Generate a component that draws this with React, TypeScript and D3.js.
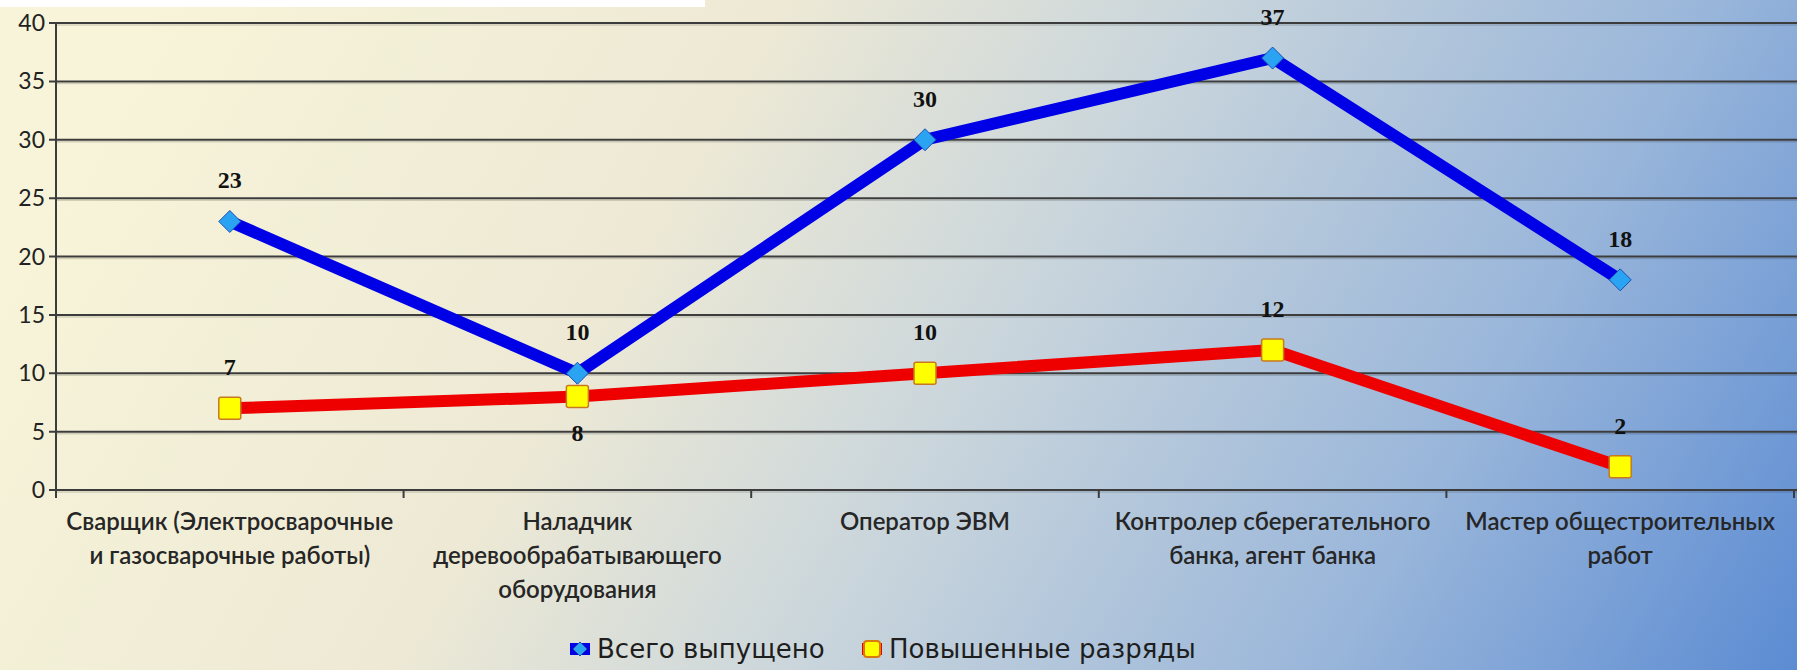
import * as React from "react";
import { scaleLinear, scaleBand, line as d3Line, range } from "d3";

const categories: string[][] = [
  ["Сварщик (Электросварочные", "и газосварочные работы)"],
  ["Наладчик", "деревообрабатывающего", "оборудования"],
  ["Оператор ЭВМ"],
  ["Контролер сберегательного", "банка, агент банка"],
  ["Мастер общестроительных", "работ"],
];
const totalValues = [23, 10, 30, 37, 18];
const raisedValues = [7, 8, 10, 12, 2];
// label below the point for these indices of the red series
const raisedBelow = [1];
const yTicks = [0, 5, 10, 15, 20, 25, 30, 35, 40];
const seriesNames = ["Всего выпущено", "Повышенные разряды"];

const W = 1797;
const H = 670;
const margin = { top: 23, right: 3, bottom: 180, left: 56 };

const App = () => {
  const plotW = W - margin.left - margin.right;
  const plotH = H - margin.top - margin.bottom;

  const x = scaleBand<number>()
    .domain(range(categories.length))
    .range([0, plotW]);
  const y = scaleLinear().domain([0, 40]).range([plotH, 0]);
  const cx = (i: number) => (x(i) || 0) + x.bandwidth() / 2;

  const line = d3Line<number>()
    .x((d, i) => cx(i))
    .y(d => y(d));

  const diamond = (px: number, py: number, r: number) =>
    `M${px},${py - r}L${px + r},${py}L${px},${py + r}L${px - r},${py}Z`;

  return (
    <svg width={W} height={H} style={{ display: "block", position: "absolute", left: 0, top: 0 }}>
      <defs>
        <linearGradient id="bg" gradientUnits="userSpaceOnUse" x1="250" y1="-150" x2="1797" y2="760">
          <stop offset="0" stopColor="#f7f4d9" />
          <stop offset="0.3" stopColor="#ede9d5" />
          <stop offset="0.5" stopColor="#c9d5dc" />
          <stop offset="0.75" stopColor="#98b5da" />
          <stop offset="1" stopColor="#5587d2" />
        </linearGradient>
      </defs>
      <rect width={W} height={H} fill="url(#bg)" />
      <rect width={705} height={7} fill="#ffffff" />

      <g transform={`translate(${margin.left},${margin.top})`}>
        {/* gridlines */}
        {yTicks.map(t => (
          <g key={t}>
            <line x1={0} x2={plotW + 10} y1={y(t) + 2} y2={y(t) + 2} stroke="#000" strokeOpacity={0.15} strokeWidth={1.5} />
            <line x1={-7} x2={plotW + 10} y1={y(t)} y2={y(t)} stroke="#3c3c3c" strokeWidth={2} />
            <text
              x={-11}
              y={y(t) + 8}
              textAnchor="end"
              fontFamily="Lato"
              fontSize={23}
              fill="#222"
            >
              {t}
            </text>
          </g>
        ))}
        <line x1={0} x2={0} y1={0} y2={plotH + 8} stroke="#3c3c3c" strokeWidth={2} />
        {range(categories.length).map(i => (
          <line
            key={i}
            x1={(x(i) || 0) + x.bandwidth()}
            x2={(x(i) || 0) + x.bandwidth()}
            y1={plotH}
            y2={plotH + 8}
            stroke="#3c3c3c"
            strokeWidth={2}
          />
        ))}

        {/* category labels */}
        {categories.map((lines, i) => (
          <text key={i} textAnchor="middle" fontFamily="Lato" fontSize={24} fill="#262626" fontWeight={600}>
            {lines.map((l, j) => (
              <tspan key={j} x={cx(i)} y={plotH + 40 + j * 34}>
                {l}
              </tspan>
            ))}
          </text>
        ))}

        {/* series lines */}
        <path d={line(totalValues) || ""} fill="none" stroke="#0000e6" strokeWidth={12} strokeLinejoin="round" />
        <path d={line(raisedValues) || ""} fill="none" stroke="#ee0000" strokeWidth={12} strokeLinejoin="round" />

        {totalValues.map((v, i) => (
          <path key={i} d={diamond(cx(i), y(v), 11)} fill="#2aa3f2" stroke="#1d4fb0" strokeWidth={1} />
        ))}
        {raisedValues.map((v, i) => (
          <rect
            key={i}
            x={cx(i) - 11}
            y={y(v) - 11}
            width={22}
            height={22}
            rx={2}
            fill="#ffff00"
            stroke="#c87820"
            strokeWidth={1.5}
          />
        ))}

        {/* data labels */}
        {totalValues.map((v, i) => (
          <text
            key={i}
            x={cx(i)}
            y={y(v) - 33}
            textAnchor="middle"
            fontFamily="Liberation Serif"
            fontSize={24}
            fontWeight="bold"
            fill="#111"
          >
            {v}
          </text>
        ))}
        {raisedValues.map((v, i) => (
          <text
            key={i}
            x={cx(i)}
            y={raisedBelow.includes(i) ? y(v) + 44 : y(v) - 33}
            textAnchor="middle"
            fontFamily="Liberation Serif"
            fontSize={24}
            fontWeight="bold"
            fill="#111"
          >
            {v}
          </text>
        ))}
      </g>

      {/* legend */}
      <g transform="translate(570,649)">
        <rect x={0} y={-6} width={20} height={12} fill="#0000e6" />
        <path d={diamond(10, 0, 7)} fill="#2aa3f2" stroke="#1d4fb0" strokeWidth={1} />
        <text x={27} y={9} fontFamily="DejaVu Sans" fontSize={26} fill="#1e1e1e">
          {seriesNames[0]}
        </text>
        <g transform="translate(292,0)">
          <rect x={0} y={-6} width={20} height={12} fill="#ee0000" />
          <rect x={2} y={-8} width={16} height={16} rx={3} fill="#ffff00" stroke="#d97a10" strokeWidth={2} />
          <text x={27} y={9} fontFamily="DejaVu Sans" fontSize={26} fill="#1e1e1e">
            {seriesNames[1]}
          </text>
        </g>
      </g>
    </svg>
  );
};

export default App;
